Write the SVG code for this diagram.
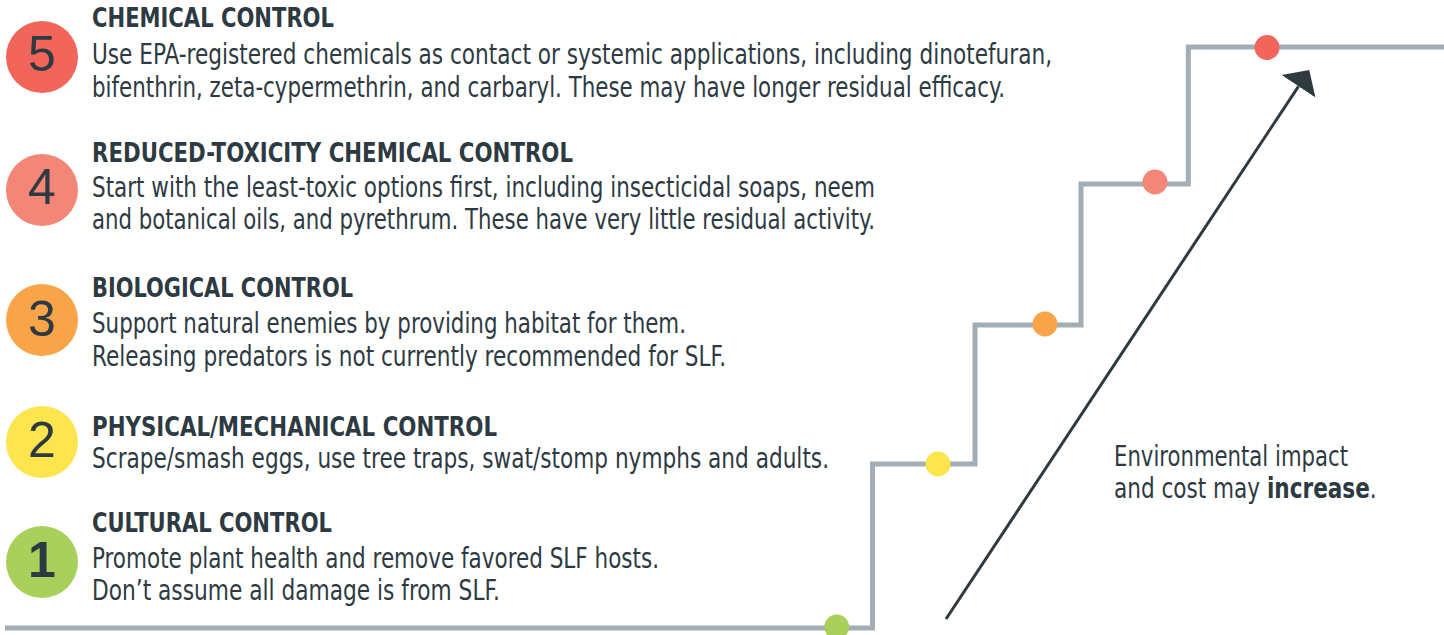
<svg xmlns="http://www.w3.org/2000/svg" width="1444" height="635" viewBox="0 0 1444 635">
<style>
text{font-family:"Liberation Sans Narrow","DejaVu Sans Condensed","Liberation Sans",sans-serif;fill:#2e3a42}
.hd{font-size:26px;font-weight:bold}
.bd{font-size:28px}
.b{font-weight:bold}
.num{font-family:"Liberation Sans",Arial,sans-serif;font-size:50px;text-anchor:middle}
.stair{fill:none;stroke:#a3adb5;stroke-width:5;stroke-linejoin:miter}
.arrow{stroke:#2e3a40;stroke-width:3;fill:none}
.c5{fill:#f1655b}.c4{fill:#f48677}.c3{fill:#f9a449}.c2{fill:#fee44d}.c1{fill:#a8d05a}
</style>
<defs>
<marker id="ah" markerUnits="userSpaceOnUse" viewBox="0 -21 20 42" refX="0" refY="0" markerWidth="20" markerHeight="42" orient="auto">
<path d="M0,-20.3 L19.5,0 L0,20.3 z" fill="#2e3a40"/>
</marker>
</defs>
<rect width="1444" height="635" fill="#ffffff"/>

<g id="staircase">
<path class="stair" d="M5,628 H872.5 V464 H975 V325 H1081 V184 H1188.3 V47 H1444"/>
<circle class="c1" cx="836.7" cy="627" r="12.5"/>
<circle class="c2" cx="938" cy="464" r="12.5"/>
<circle class="c3" cx="1045" cy="324" r="12.5"/>
<circle class="c4" cx="1155" cy="182" r="12.5"/>
<circle class="c5" cx="1267" cy="47.5" r="12.5"/>
</g>

<g id="connectors">
<line class="arrow" x1="946" y1="619" x2="1298.5" y2="86.3" marker-end="url(#ah)"/>
</g>

<g id="step-5">
<circle class="c5" cx="42" cy="57" r="36"/>
<text class="num" x="42" y="71">5</text>
<text class="hd" x="92" y="27.3" textLength="242" lengthAdjust="spacingAndGlyphs">CHEMICAL CONTROL</text>
<text class="bd" x="92" y="64" textLength="960" lengthAdjust="spacingAndGlyphs">Use EPA-registered chemicals as contact or systemic applications, including dinotefuran,</text>
<text class="bd" x="92" y="97" textLength="913" lengthAdjust="spacingAndGlyphs">bifenthrin, zeta-cypermethrin, and carbaryl. These may have longer residual efficacy.</text>
</g>

<g id="step-4">
<circle class="c4" cx="42" cy="190" r="36"/>
<text class="num" x="42" y="204">4</text>
<text class="hd" x="92" y="162.3" textLength="481" lengthAdjust="spacingAndGlyphs">REDUCED-TOXICITY CHEMICAL CONTROL</text>
<text class="bd" x="92" y="197" textLength="783" lengthAdjust="spacingAndGlyphs">Start with the least-toxic options first, including insecticidal soaps, neem</text>
<text class="bd" x="92" y="229" textLength="783" lengthAdjust="spacingAndGlyphs">and botanical oils, and pyrethrum. These have very little residual activity.</text>
</g>

<g id="step-3">
<circle class="c3" cx="42" cy="320" r="36"/>
<text class="num" x="42" y="336">3</text>
<text class="hd" x="92" y="297.3" textLength="261" lengthAdjust="spacingAndGlyphs">BIOLOGICAL CONTROL</text>
<text class="bd" x="92" y="333" textLength="594" lengthAdjust="spacingAndGlyphs">Support natural enemies by providing habitat for them.</text>
<text class="bd" x="92" y="366" textLength="634" lengthAdjust="spacingAndGlyphs">Releasing predators is not currently recommended for SLF.</text>
</g>

<g id="step-2">
<circle class="c2" cx="42" cy="442" r="36"/>
<text class="num" x="42" y="457">2</text>
<text class="hd" x="92" y="435.7" textLength="405" lengthAdjust="spacingAndGlyphs">PHYSICAL/MECHANICAL CONTROL</text>
<text class="bd" x="92" y="468" textLength="737" lengthAdjust="spacingAndGlyphs">Scrape/smash eggs, use tree traps, swat/stomp nymphs and adults.</text>
</g>

<g id="step-1">
<circle class="c1" cx="42" cy="562" r="36"/>
<text class="num" x="42" y="577" font-weight="bold">1</text>
<text class="hd" x="92" y="531.7" textLength="240" lengthAdjust="spacingAndGlyphs">CULTURAL CONTROL</text>
<text class="bd" x="92" y="568" textLength="567" lengthAdjust="spacingAndGlyphs">Promote plant health and remove favored SLF hosts.</text>
<text class="bd" x="92" y="600" textLength="408" lengthAdjust="spacingAndGlyphs">Don’t assume all damage is from SLF.</text>
</g>

<g id="note">
<text class="bd" x="1114" y="466" textLength="234" lengthAdjust="spacingAndGlyphs">Environmental impact</text>
<text class="bd" transform="translate(1114 498) scale(0.857 1)" x="0" y="0">and cost may <tspan class="b">increase</tspan>.</text>
</g>
</svg>
